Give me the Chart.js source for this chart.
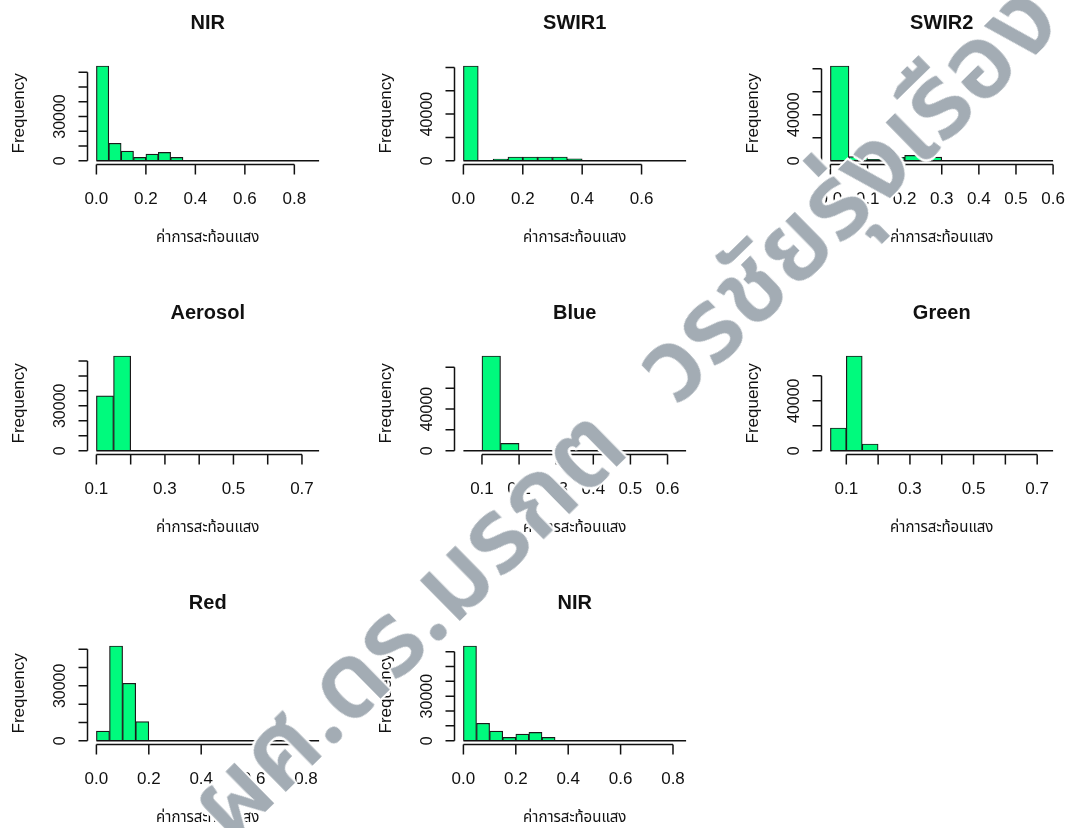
<!DOCTYPE html>
<html>
<head>
<meta charset="utf-8">
<title>Histograms</title>
<script src="https://cdn.jsdelivr.net/npm/chart.js@4.4.1/dist/chart.umd.min.js"></script>
<style>
    html, body { margin: 0; padding: 0; background: #fff; }
    body { width: 1067px; height: 828px; position: relative; overflow: hidden; }
    canvas.panel { position: absolute; }
    #watermark {
        position: absolute;
        left: 626px;
        top: 414px;
        white-space: nowrap;
        font-family: "Noto Sans Thai", "Loma", "Garuda", "Tlwg Typo", sans-serif;
        font-weight: 600;
        font-size: 110px;
        word-spacing: 0.35em;
        line-height: 1;
        color: #a3acb4;
        transform: translate(-50%, -50%) rotate(-44.5deg);
        text-shadow: 2px 2px 0 #fff, -2px -2px 0 #fff, 2px -2px 0 #fff, -2px 2px 0 #fff;
        pointer-events: none;
    }
</style>
</head>
<body>
<div id="watermark">ผศ.ดร.มรกต วรชัยรุ่งเรือง</div>
<script>
// --- data ---
const BIN_WIDTH = 0.05;
const X_LABEL = 'ค่าการสะท้อนแสง';
const Y_LABEL = 'Frequency';

const panelTitles = ['NIR', 'SWIR1', 'SWIR2', 'Aerosol', 'Blue', 'Green', 'Red', 'NIR'];
const binStarts = [0, 0, 0, 0.1, 0.05, 0.05, 0, 0];

const nirCounts = [64300, 11800, 6570, 2260, 4530, 5660, 2260, 0, 0, 0, 0, 0, 0, 0, 0, 0, 0, 0];
const swir1Counts = [81200, 0, 1460, 3180, 3180, 3180, 3180, 1700, 0, 0, 0, 0, 0, 0, 0];
const swir2Counts = [82300, 3500, 1200, 2900, 4600, 3200, 0, 0, 0, 0, 0, 0];
const aerosolCounts = [36600, 63300, 0, 0, 0, 0, 0, 0, 0, 0, 0, 0, 0];
const blueCounts = [0, 90900, 7000, 0, 0, 0, 0, 0, 0, 0, 0, 0];
const greenCounts = [18200, 75800, 5400, 0, 0, 0, 0, 0, 0, 0, 0, 0, 0, 0];
const redCounts = [5300, 51800, 31400, 10400, 0, 0, 0, 0, 0, 0, 0, 0, 0, 0, 0, 0, 0];
const nir2Counts = [63800, 11700, 6500, 2250, 4500, 5600, 2250, 0, 0, 0, 0, 0, 0, 0, 0, 0, 0];

// x axis ticks, '' = tick without a label (R drops labels that would overlap)
const tenthTicks = [0.1, 0.2, 0.3, 0.4, 0.5, 0.6, 0.7];
const nirXTicks = [0, 0.2, 0.4, 0.6, 0.8];
const nirXLabels = ['0.0', '0.2', '0.4', '0.6', '0.8'];
const swir1XTicks = [0, 0.2, 0.4, 0.6];
const swir1XLabels = ['0.0', '0.2', '0.4', '0.6'];
const swir2XTicks = [0, 0.1, 0.2, 0.3, 0.4, 0.5, 0.6];
const swir2XLabels = ['0.0', '0.1', '0.2', '0.3', '0.4', '0.5', '0.6'];
const aerosolXLabels = ['0.1', '', '0.3', '', '0.5', '', '0.7'];
const blueXTicks = [0.1, 0.2, 0.3, 0.4, 0.5, 0.6];
const blueXLabels = ['0.1', '0.2', '0.3', '0.4', '0.5', '0.6'];
const greenXLabels = ['0.1', '', '0.3', '', '0.5', '', '0.7'];

// y axis ticks
const by10kTicks = [0, 10000, 20000, 30000, 40000, 50000, 60000];
const by10kLabels = ['0', '', '', '30000', '', '', ''];
const by20kTicks = [0, 20000, 40000, 60000, 80000];
const by20kLabels = ['0', '', '40000', '', ''];
const greenYTicks = [0, 20000, 40000, 60000];
const greenYLabels = ['0', '', '40000', ''];
const redYTicks = [0, 10000, 20000, 30000, 40000, 50000];
const redYLabels = ['0', '', '', '30000', '', ''];

const panels = [
    { counts: nirCounts, xTicks: nirXTicks, xLabels: nirXLabels, yTicks: by10kTicks, yLabels: by10kLabels },
    { counts: swir1Counts, xTicks: swir1XTicks, xLabels: swir1XLabels, yTicks: by20kTicks, yLabels: by20kLabels },
    { counts: swir2Counts, xTicks: swir2XTicks, xLabels: swir2XLabels, yTicks: by20kTicks, yLabels: by20kLabels },
    { counts: aerosolCounts, xTicks: tenthTicks, xLabels: aerosolXLabels, yTicks: by10kTicks, yLabels: by10kLabels },
    { counts: blueCounts, xTicks: blueXTicks, xLabels: blueXLabels, yTicks: by20kTicks, yLabels: by20kLabels },
    { counts: greenCounts, xTicks: tenthTicks, xLabels: greenXLabels, yTicks: greenYTicks, yLabels: greenYLabels },
    { counts: redCounts, xTicks: nirXTicks, xLabels: nirXLabels, yTicks: redYTicks, yLabels: redYLabels },
    { counts: nir2Counts, xTicks: nirXTicks, xLabels: nirXLabels, yTicks: by10kTicks, yLabels: by10kLabels },
];

// --- layout (plot regions like par(mfrow = c(3, 3))) ---
const PLOT_LEFT = [87.5, 454.2, 821];
const PLOT_TOP = [62.2, 352.2, 642.2];
const PLOT_W = 240.5;
const PLOT_H = 102.3;
const CANVAS_W = 366;
const CANVAS_H = 290;
const PAD_L = 87.5;
const PAD_T = 62.2;

const INK = '#111';
const FONT = '"Liberation Sans", Arial, sans-serif';
const THAI_FONT = '"Noto Sans Thai", "Loma", "Garuda", "Liberation Sans", sans-serif';

// draws R style axes, titles and the flat line of the empty bins
const rAxesPlugin = {
    id: 'rAxes',
    afterDatasetsDraw(chart, args, opts) {
        const { ctx, chartArea: a, scales: { x, y } } = chart;
        const p = opts.panel;
        const cx = (a.left + a.right) / 2;
        const cy = (a.top + a.bottom) / 2;

        ctx.save();
        ctx.strokeStyle = INK;
        ctx.fillStyle = INK;
        ctx.lineWidth = 1.5;

        // zero-count bins show as a line along 0
        const y0 = y.getPixelForValue(0);
        const firstBreak = p.start;
        const lastBreak = p.start + p.counts.length * BIN_WIDTH;
        ctx.beginPath();
        ctx.moveTo(x.getPixelForValue(firstBreak), y0);
        ctx.lineTo(x.getPixelForValue(lastBreak), y0);
        ctx.stroke();

        // x axis
        const xb = a.bottom;
        ctx.beginPath();
        ctx.moveTo(x.getPixelForValue(p.xTicks[0]), xb);
        ctx.lineTo(x.getPixelForValue(p.xTicks[p.xTicks.length - 1]), xb);
        p.xTicks.forEach(t => {
            const px = x.getPixelForValue(t);
            ctx.moveTo(px, xb);
            ctx.lineTo(px, xb + 10);
        });
        ctx.stroke();
        ctx.font = `17px ${FONT}`;
        ctx.textAlign = 'center';
        ctx.textBaseline = 'middle';
        p.xTicks.forEach((t, i) => {
            if (p.xLabels[i]) ctx.fillText(p.xLabels[i], x.getPixelForValue(t), xb + 35);
        });

        // y axis
        const yl = a.left;
        ctx.beginPath();
        ctx.moveTo(yl, y.getPixelForValue(p.yTicks[0]));
        ctx.lineTo(yl, y.getPixelForValue(p.yTicks[p.yTicks.length - 1]));
        p.yTicks.forEach(t => {
            const py = y.getPixelForValue(t);
            ctx.moveTo(yl, py);
            ctx.lineTo(yl - 9, py);
        });
        ctx.stroke();
        ctx.font = `16px ${FONT}`;
        p.yTicks.forEach((t, i) => {
            if (!p.yLabels[i]) return;
            ctx.save();
            ctx.translate(yl - 27, y.getPixelForValue(t));
            ctx.rotate(-Math.PI / 2);
            ctx.fillText(p.yLabels[i], 0, 0);
            ctx.restore();
        });

        // titles
        ctx.font = `bold 20px ${FONT}`;
        ctx.fillText(p.title, cx, a.top - 39);
        ctx.font = `15px ${THAI_FONT}`;
        ctx.fillText(X_LABEL, cx, a.bottom + 74);
        ctx.font = `17px ${FONT}`;
        ctx.save();
        ctx.translate(yl - 68, cy);
        ctx.rotate(-Math.PI / 2);
        ctx.fillText(Y_LABEL, 0, 0);
        ctx.restore();

        ctx.restore();
    }
};

function makePanel(p, idx) {
    const row = Math.floor(idx / 3);
    const col = idx % 3;
    const canvas = document.createElement('canvas');
    canvas.className = 'panel';
    canvas.width = CANVAS_W;
    canvas.height = CANVAS_H;
    canvas.style.left = (PLOT_LEFT[col] - PAD_L) + 'px';
    canvas.style.top = (PLOT_TOP[row] - PAD_T) + 'px';
    document.body.insertBefore(canvas, document.getElementById('watermark'));

    const lastBreak = p.start + p.counts.length * BIN_WIDTH;
    const xPad = 0.04 * (lastBreak - p.start);
    const yMax = Math.max(...p.counts);

    return new Chart(canvas.getContext('2d'), {
        type: 'bar',
        data: {
            datasets: [{
                label: p.title,
                data: p.counts.map((c, i) => ({ x: p.start + (i + 0.5) * BIN_WIDTH, y: c })),
                backgroundColor: '#00fa7d',
                borderColor: '#1a1a1a',
                borderWidth: 1.2,
                borderSkipped: 'start',
                barPercentage: 1,
                categoryPercentage: 1,
                grouped: false
            }]
        },
        options: {
            responsive: false,
            animation: false,
            devicePixelRatio: 1,
            layout: {
                padding: {
                    left: PAD_L,
                    top: PAD_T,
                    right: CANVAS_W - PAD_L - PLOT_W,
                    bottom: CANVAS_H - PAD_T - PLOT_H
                }
            },
            scales: {
                x: { type: 'linear', display: false, offset: false, min: p.start - xPad, max: lastBreak + xPad },
                y: { type: 'linear', display: false, min: -0.04 * yMax, max: 1.04 * yMax }
            },
            plugins: {
                legend: { display: false },
                tooltip: { enabled: false },
                rAxes: { panel: p }
            }
        },
        plugins: [rAxesPlugin]
    });
}

panels.forEach((p, i) => {
    p.title = panelTitles[i];
    p.start = binStarts[i];
    makePanel(p, i);
});

// stretch the watermark along the diagonal
const wm = document.getElementById('watermark');
const wmTarget = 1170;
const wmWidth = wm.offsetWidth;
if (wmWidth > 0) {
    wm.style.fontSize = (110 * wmTarget / wmWidth) + 'px';
}
</script>
</body>
</html>
